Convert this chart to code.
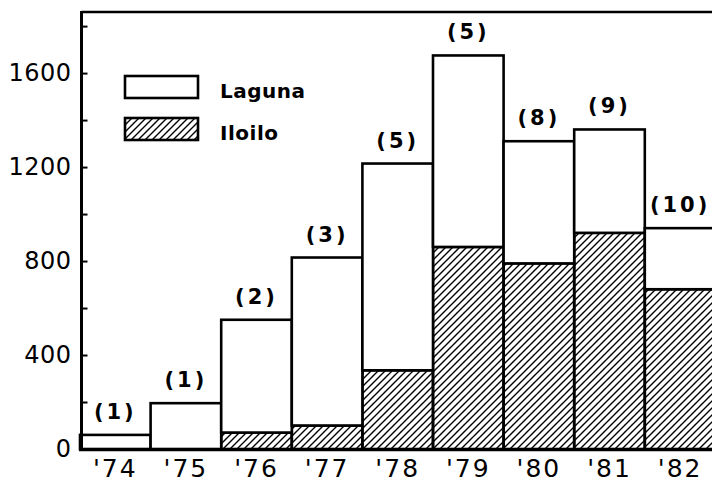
<!DOCTYPE html>
<html>
<head>
<meta charset="utf-8">
<script src="https://cdn.jsdelivr.net/npm/d3@7"></script>
<style>
  body { margin: 0; background: #fff; }
  text { font-family: "DejaVu Sans", sans-serif; fill: #000; }
</style>
</head>
<body>
<div id="chart"></div>
<script>
// data
const years = ["74", "75", "76", "77", "78", "79", "80", "81", "82"];
const iloilo = [0, 0, 70, 100, 335, 860, 790, 920, 680];
const laguna = [60, 195, 480, 715, 880, 815, 520, 440, 260];
const sampleCounts = [1, 1, 2, 3, 5, 5, 8, 9, 10];
const yTicks = [0, 200, 400, 600, 800, 1000, 1200, 1400, 1600, 1800];
const yLabels = [0, 400, 800, 1200, 1600];
const legendItems = ["Laguna", "Iloilo"];

function draw() {
  const dimensions = {
    width: 712,
    height: 484,
    left: 80,
    right: 715.4,
    top: 12,
    bottom: 449,
  };

  const table = years.map((y, i) => ({
    year: y,
    iloilo: iloilo[i],
    laguna: laguna[i],
    count: sampleCounts[i],
  }));

  const svg = d3
    .select("#chart")
    .append("svg")
    .attr("width", dimensions.width)
    .attr("height", dimensions.height);

  // hatch for Iloilo
  svg
    .append("defs")
    .append("pattern")
    .attr("id", "hatch")
    .attr("patternUnits", "userSpaceOnUse")
    .attr("width", 7)
    .attr("height", 7)
    .append("path")
    .attr("d", "M-1,1 l2,-2 M0,7 l7,-7 M6,8 l2,-2")
    .attr("stroke", "#000")
    .attr("stroke-width", 1.4);

  const xScale = d3
    .scaleBand()
    .domain(years)
    .range([dimensions.left, dimensions.right])
    .padding(0);

  const yScale = d3
    .scaleLinear()
    .domain([0, 1860])
    .range([dimensions.bottom, dimensions.top]);

  const stacked = d3.stack().keys(["iloilo", "laguna"])(table);

  const fills = { iloilo: "url(#hatch)", laguna: "#fff" };

  // bars
  svg
    .append("g")
    .selectAll("g")
    .data(stacked)
    .join("g")
    .attr("fill", (s) => fills[s.key])
    .selectAll("rect")
    .data((s) => s)
    .join("rect")
    .attr("x", (d) => xScale(d.data.year))
    .attr("width", xScale.bandwidth())
    .attr("y", (d) => yScale(d[1]))
    .attr("height", (d) => yScale(d[0]) - yScale(d[1]))
    .attr("stroke", "#000")
    .attr("stroke-width", 2.6);

  // sample counts above bars
  svg
    .append("g")
    .selectAll("text")
    .data(table)
    .join("text")
    .attr("x", (d) => xScale(d.year) + xScale.bandwidth() / 2)
    .attr("y", (d) => yScale(d.iloilo + d.laguna) - 16)
    .attr("text-anchor", "middle")
    .attr("font-size", 21)
    .attr("font-weight", "bold")
    .attr("letter-spacing", 3)
    .text((d) => `(${d.count})`);

  // frame: top line and baseline
  svg
    .append("line")
    .attr("x1", dimensions.left + 1.5)
    .attr("x2", dimensions.width)
    .attr("y1", dimensions.top)
    .attr("y2", dimensions.top)
    .attr("stroke", "#000")
    .attr("stroke-width", 2.6);

  svg
    .append("line")
    .attr("x1", dimensions.left - 1)
    .attr("x2", dimensions.width)
    .attr("y1", dimensions.bottom + 1)
    .attr("y2", dimensions.bottom + 1)
    .attr("stroke", "#000")
    .attr("stroke-width", 2.6);

  // y axis, ticks pointing inward
  const yAxis = d3
    .axisLeft(yScale)
    .tickValues(yTicks)
    .tickSizeInner(-6)
    .tickSizeOuter(0)
    .tickPadding(10)
    .tickFormat((d) => (yLabels.includes(d) ? d : ""));

  const yAxisGroup = svg
    .append("g")
    .attr("transform", `translate(${dimensions.left + 1.5}, 0)`)
    .call(yAxis);

  yAxisGroup.select(".domain").remove();
  yAxisGroup.selectAll(".tick line").attr("stroke-width", 2);
  yAxisGroup
    .selectAll(".tick text")
    .attr("font-family", "DejaVu Sans, sans-serif")
    .attr("font-size", 24)
    .attr("letter-spacing", 0.5)
    .attr("fill", "#000");

  yAxisGroup
    .append("line")
    .attr("y1", dimensions.top - 1)
    .attr("y2", dimensions.bottom + 2)
    .attr("stroke", "#000")
    .attr("stroke-width", 3);

  // x axis labels
  const xAxis = d3
    .axisBottom(xScale)
    .tickSize(0)
    .tickPadding(0)
    .tickFormat((d) => "'" + d);

  const xAxisGroup = svg
    .append("g")
    .attr("transform", `translate(0, ${dimensions.bottom + 2})`)
    .call(xAxis);

  xAxisGroup.select(".domain").remove();
  xAxisGroup
    .selectAll(".tick text")
    .attr("dy", 0)
    .attr("y", 26)
    .attr("font-family", "DejaVu Sans, sans-serif")
    .attr("font-size", 25)
    .attr("letter-spacing", 2)
    .attr("fill", "#000");

  // legend
  const legend = svg
    .append("g")
    .selectAll("g")
    .data(legendItems)
    .join("g")
    .attr("transform", (d, i) => `translate(125, ${76 + i * 42})`);

  legend
    .append("rect")
    .attr("width", 73)
    .attr("height", 22)
    .attr("fill", (d, i) => (i === 0 ? "#fff" : "url(#hatch)"))
    .attr("stroke", "#000")
    .attr("stroke-width", 2.6);

  legend
    .append("text")
    .attr("x", 95)
    .attr("y", 22)
    .attr("font-size", 20)
    .attr("font-weight", "bold")
    .attr("letter-spacing", 0.5)
    .text((d) => d);
}

draw();
</script>
</body>
</html>
